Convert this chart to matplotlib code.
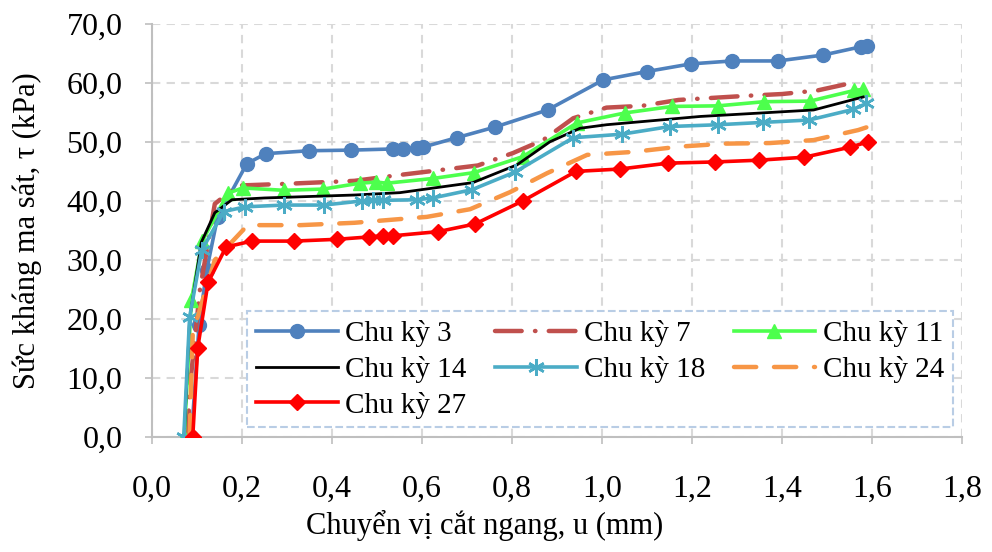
import matplotlib
matplotlib.use('Agg')
import matplotlib.pyplot as plt
from matplotlib.ticker import MultipleLocator, FuncFormatter

# Shear displacement u (mm) and shear resistance tau (kPa) per cycle
u_c3 = [0.088, 0.105, 0.122, 0.146, 0.211, 0.253, 0.349, 0.442, 0.536, 0.558,
        0.589, 0.602, 0.677, 0.762, 0.879, 1.003, 1.099, 1.197, 1.289, 1.391,
        1.491, 1.575, 1.589]
t_c3 = [0.0, 19.0, 28.3, 37.2, 46.3, 48.0, 48.5, 48.6, 48.8, 48.8,
        49.0, 49.1, 50.7, 52.5, 55.4, 60.5, 61.9, 63.2, 63.7, 63.7,
        64.7, 66.1, 66.3]

u_c7 = [0.080, 0.084, 0.107, 0.140, 0.190, 0.300, 0.450, 0.551, 0.724, 0.802,
        0.869, 0.936, 1.010, 1.089, 1.170, 1.322, 1.400, 1.478, 1.556]
t_c7 = [0.0, 8.0, 25.0, 39.5, 42.6, 42.9, 43.4, 44.4, 46.0, 48.1,
        50.3, 54.0, 55.8, 56.1, 57.1, 57.8, 58.1, 58.7, 60.0]

u_c11 = [0.072, 0.088, 0.112, 0.169, 0.202, 0.293, 0.380, 0.462, 0.499, 0.522,
         0.624, 0.716, 0.824, 0.944, 1.051, 1.156, 1.258, 1.360, 1.462, 1.560,
         1.580]
t_c11 = [0.0, 23.2, 33.2, 41.3, 42.2, 41.8, 42.0, 43.0, 43.2, 43.0,
         43.8, 44.8, 47.5, 53.2, 54.9, 56.0, 56.1, 56.8, 56.9, 58.7,
         58.9]

u_c14 = [0.072, 0.084, 0.110, 0.140, 0.178, 0.250, 0.450, 0.551, 0.713, 0.811,
         0.884, 0.951, 1.010, 1.218, 1.470, 1.580]
t_c14 = [0.0, 20.0, 33.0, 38.0, 40.2, 40.5, 41.0, 41.4, 43.1, 46.1,
         50.0, 52.3, 52.9, 54.3, 55.4, 57.6]

u_c18 = [0.071, 0.084, 0.111, 0.160, 0.207, 0.293, 0.382, 0.467, 0.491, 0.513,
         0.589, 0.624, 0.711, 0.807, 0.936, 1.044, 1.151, 1.258, 1.358, 1.460,
         1.558, 1.587]
t_c18 = [0.0, 20.3, 31.7, 38.2, 39.0, 39.3, 39.3, 40.0, 40.1, 40.1,
         40.2, 40.5, 41.9, 44.9, 50.7, 51.3, 52.6, 52.9, 53.3, 53.7,
         55.5, 56.5]

u_c24 = [0.084, 0.091, 0.140, 0.213, 0.330, 0.450, 0.611, 0.707, 0.796, 0.878,
         0.967, 1.069, 1.173, 1.273, 1.373, 1.470, 1.569, 1.593]
t_c24 = [0.0, 17.6, 30.0, 35.9, 35.9, 36.3, 37.3, 38.6, 41.5, 44.7,
         47.8, 48.3, 49.2, 49.7, 49.8, 50.3, 52.0, 52.6]

u_c27 = [0.091, 0.102, 0.125, 0.165, 0.222, 0.316, 0.411, 0.482, 0.513, 0.536,
         0.636, 0.718, 0.824, 0.942, 1.040, 1.147, 1.251, 1.349, 1.449, 1.551,
         1.591]
t_c27 = [0.0, 15.1, 26.2, 32.2, 33.2, 33.2, 33.5, 33.9, 34.1, 34.1,
         34.8, 36.1, 40.0, 45.0, 45.4, 46.4, 46.6, 46.9, 47.4, 49.1,
         50.0]

plt.rcParams['font.family'] = ['Liberation Serif', 'DejaVu Serif']
plt.rcParams['font.size'] = 21

fig = plt.figure(figsize=(9.92, 5.52), dpi=100)
ax = fig.add_axes([0.153, 0.208, 0.817, 0.749])

lw = 2.6
ax.plot(u_c3, t_c3, '-', color='#4F81BD', lw=lw, marker='o', ms=10,
        label='Chu kỳ 3', zorder=3)
ax.plot(u_c7, t_c7, color='#C0504D', lw=lw + 0.6, dashes=(6, 3, 0.1, 3),
        dash_capstyle='round', label='Chu kỳ 7', zorder=3)
ax.plot(u_c11, t_c11, '-', color='#4DFF4D', lw=lw, marker='^', ms=10,
        label='Chu kỳ 11', zorder=3)
ax.plot(u_c14, t_c14, '-', color='black', lw=2.0, label='Chu kỳ 14', zorder=3)
ax.plot(u_c18, t_c18, '-', color='#4BACC6', lw=lw, marker=(6, 2, 0), ms=12,
        mew=1.8, label='Chu kỳ 18', zorder=3)
ax.plot(u_c24, t_c24, color='#F79646', lw=lw + 0.6, dashes=(5, 4),
        dash_capstyle='round', label='Chu kỳ 24', zorder=3)
ax.plot(u_c27, t_c27, '-', color='#FF0000', lw=lw, marker='D', ms=8,
        label='Chu kỳ 27', zorder=3)

ax.set_xlim(0, 1.8)
ax.set_ylim(0, 70)
ax.xaxis.set_major_locator(MultipleLocator(0.2))
ax.yaxis.set_major_locator(MultipleLocator(10))
comma = FuncFormatter(lambda v, pos: ('%.1f' % v).replace('.', ','))
ax.xaxis.set_major_formatter(comma)
ax.yaxis.set_major_formatter(comma)

ax.grid(True, color='#D9D9D9', linestyle=(0, (4, 3)), linewidth=1.5, zorder=0)
ax.set_axisbelow(True)
for side in ('top', 'right'):
    ax.spines[side].set_visible(False)
for side in ('left', 'bottom'):
    ax.spines[side].set_color('#BFBFBF')
    ax.spines[side].set_linewidth(1.5)
ax.tick_params(length=5, width=1.2, color='#BFBFBF', labelsize=23)
ax.tick_params(axis='x', pad=22)
ax.tick_params(axis='y', pad=16)

ax.set_xlabel('Chuyển vị cắt ngang, u (mm)', fontsize=22)
ax.set_ylabel('Sức kháng ma sát, τ (kPa)', fontsize=22)
ax.xaxis.set_label_coords(0.411, -0.175)
ax.yaxis.set_label_coords(-0.135, 0.5)

# row-wise legend order: 3, 7, 11 / 14, 18, 24 / 27
handles, labels = ax.get_legend_handles_labels()
order = [0, 3, 6, 1, 4, 2, 5]
leg = ax.legend([handles[i] for i in order], [labels[i] for i in order],
                loc='lower left', bbox_to_anchor=(0.118, 0.024, 0.87, 0.296),
                mode='expand', ncol=3, fontsize=21, frameon=True,
                fancybox=False, handlelength=2.8, handletextpad=0.25,
                borderaxespad=0, labelspacing=0.3, borderpad=0.3)
frame = leg.get_frame()
frame.set_linestyle('--')
frame.set_edgecolor('#B9CDE5')
frame.set_linewidth(1.5)
frame.set_facecolor('white')
frame.set_alpha(1)

fig.savefig('out.png', dpi=100)
